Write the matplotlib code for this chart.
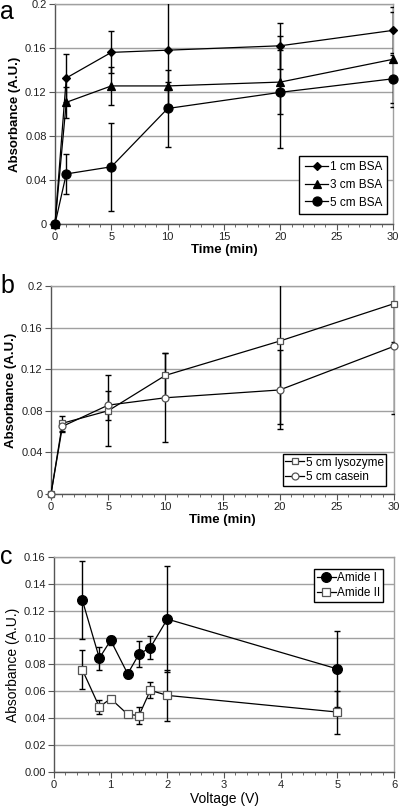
import numpy as np
import matplotlib.pyplot as plt
from matplotlib.ticker import MultipleLocator, FixedLocator

plt.rcParams['font.family'] = ['Liberation Sans', 'DejaVu Sans']

# panel a: BSA at three distances
time_a = [0, 1, 5, 10, 20, 30]
bsa_1cm = [0, 0.1327, 0.156, 0.158, 0.162, 0.176]
bsa_1cm_err = [0, 0.022, 0.019, 0.05, 0.021, 0.021]
bsa_3cm = [0, 0.1106, 0.1255, 0.1255, 0.129, 0.1497]
bsa_3cm_err = [0, 0.014, 0.0175, 0.0035, 0.029, 0.043]
bsa_5cm = [0, 0.0455, 0.052, 0.105, 0.1197, 0.132]
bsa_5cm_err = [0, 0.018, 0.040, 0.035, 0.051, 0.022]

# panel b: lysozyme and casein
time_b = [0, 1, 5, 10, 20, 30]
lysozyme = [0, 0.068, 0.080, 0.114, 0.147, 0.183]
lysozyme_err = [0, 0.007, 0.034, 0.022, 0.08, 0.0365]
casein = [0, 0.065, 0.0854, 0.0925, 0.100, 0.142]
casein_err = [0, 0.005, 0.014, 0.043, 0.038, 0.065]

# panel c: amide bands vs voltage
voltage = [0.5, 0.8, 1.0, 1.3, 1.5, 1.7, 2.0, 5.0]
amide1 = [0.1279, 0.0847, 0.098, 0.0731, 0.0877, 0.0926, 0.1138, 0.0767]
amide1_err = [0.029, 0.0085, 0.0035, 0.003, 0.0098, 0.0085, 0.0395, 0.028]
amide2 = [0.0761, 0.0484, 0.0546, 0.0429, 0.042, 0.0608, 0.057, 0.0446]
amide2_err = [0.0145, 0.005, 0.002, 0.002, 0.006, 0.006, 0.019, 0.016]

grid_col = '#a0a0a0'
txt_col = '#222222'


def style_axes(ax):
    ax.grid(True, axis='y', color=grid_col, linewidth=1.0)
    ax.set_axisbelow(True)
    for side in ['top', 'right']:
        ax.spines[side].set_color(grid_col)
        ax.spines[side].set_linewidth(1.0)
    for side in ['left', 'bottom']:
        ax.spines[side].set_color('#555555')
        ax.spines[side].set_linewidth(1.0)
    ax.tick_params(axis='both', which='major', direction='out', length=4,
                   color='#555555', labelsize=8, labelcolor=txt_col, pad=2)
    ax.tick_params(axis='x', which='minor', direction='out', length=2.5,
                   color='#555555')
    ax.tick_params(axis='y', which='minor', left=False)


def series(ax, x, y, err, marker, ms, mfc, mec, label):
    ax.errorbar(x, y, yerr=err, fmt='none', ecolor='black', elinewidth=1.0,
                capsize=2.5, capthick=1.0, zorder=3)
    ax.plot(x, y, color='black', linewidth=0.9, marker=marker, markersize=ms,
            markerfacecolor=mfc, markeredgecolor=mec, markeredgewidth=0.9,
            label=label, clip_on=False, zorder=4)


fig = plt.figure(figsize=(4.0, 8.11), dpi=100)

# ---- a ----
ax1 = fig.add_axes([0.1375, 0.7238, 0.845, 0.2713])
series(ax1, time_a, bsa_1cm, bsa_1cm_err, 'D', 4, 'black', 'black', '1 cm BSA')
series(ax1, time_a, bsa_3cm, bsa_3cm_err, '^', 5.5, 'black', 'black', '3 cm BSA')
series(ax1, time_a, bsa_5cm, bsa_5cm_err, 'o', 6.5, 'black', 'black', '5 cm BSA')
ax1.set_xlim(0, 30)
ax1.set_ylim(0, 0.2)
ax1.xaxis.set_major_locator(MultipleLocator(5))
ax1.xaxis.set_minor_locator(MultipleLocator(1))
ax1.yaxis.set_major_locator(FixedLocator([0, 0.04, 0.08, 0.12, 0.16, 0.2]))
ax1.set_yticklabels(['0', '0.04', '0.08', '0.12', '0.16', '0.2'])
style_axes(ax1)
ax1.set_xlabel('Time (min)', fontsize=9.5, fontweight='bold', labelpad=1)
ax1.set_ylabel('Absorbance (A.U.)', fontsize=9.5, fontweight='bold', labelpad=3)
ax1.legend(loc='lower right', bbox_to_anchor=(0.99, 0.035), fontsize=8.5,
           fancybox=False, edgecolor='black', framealpha=1, handlelength=2.0,
           borderpad=0.45, labelspacing=0.5, handletextpad=0.1,
           borderaxespad=0.2)
fig.text(0.0, 1.0, 'a', fontsize=18, va='top', ha='left')

# ---- b ----
ax2 = fig.add_axes([0.1275, 0.3909, 0.8575, 0.2565])
series(ax2, time_b, lysozyme, lysozyme_err, 's', 5, 'white', '#555555', '5 cm lysozyme')
series(ax2, time_b, casein, casein_err, 'o', 5, 'white', '#555555', '5 cm casein')
ax2.set_xlim(0, 30)
ax2.set_ylim(0, 0.2)
ax2.xaxis.set_major_locator(MultipleLocator(5))
ax2.xaxis.set_minor_locator(MultipleLocator(1))
ax2.yaxis.set_major_locator(FixedLocator([0, 0.04, 0.08, 0.12, 0.16, 0.2]))
ax2.set_yticklabels(['0', '0.04', '0.08', '0.12', '0.16', '0.2'])
style_axes(ax2)
ax2.set_xlabel('Time (min)', fontsize=9.5, fontweight='bold', labelpad=1)
ax2.set_ylabel('Absorbance (A.U.)', fontsize=9.5, fontweight='bold', labelpad=3)
ax2.legend(loc='lower right', bbox_to_anchor=(0.985, 0.025), fontsize=8.5,
           fancybox=False, edgecolor='black', framealpha=1, handlelength=1.6,
           borderpad=0.25, labelspacing=0.25, handletextpad=0.1,
           borderaxespad=0.2)
fig.text(0.0, 0.662, 'b', fontsize=18, va='top', ha='left')

# ---- c ----
ax3 = fig.add_axes([0.135, 0.0481, 0.85, 0.2651])
series(ax3, voltage, amide1, amide1_err, 'o', 7, 'black', 'black', 'Amide I')
series(ax3, voltage, amide2, amide2_err, 's', 6, 'white', '#555555', 'Amide II')
ax3.set_xlim(0, 6)
ax3.set_ylim(0, 0.16)
ax3.xaxis.set_major_locator(MultipleLocator(1))
ax3.xaxis.set_minor_locator(MultipleLocator(0.2))
ax3.yaxis.set_major_locator(MultipleLocator(0.02))
ax3.yaxis.set_major_formatter(plt.FormatStrFormatter('%.2f'))
style_axes(ax3)
ax3.set_xlabel('Voltage (V)', fontsize=10, labelpad=1)
ax3.set_ylabel('Absorbance (A.U.)', fontsize=10, labelpad=3)
ax3.legend(loc='upper right', bbox_to_anchor=(0.975, 0.955), fontsize=8.5,
           fancybox=False, edgecolor='black', framealpha=1, handlelength=1.6,
           borderpad=0.25, labelspacing=0.25, handletextpad=0.1,
           borderaxespad=0.2)
fig.text(0.0, 0.328, 'c', fontsize=18, va='top', ha='left')

plt.savefig('out.png', dpi=100)
